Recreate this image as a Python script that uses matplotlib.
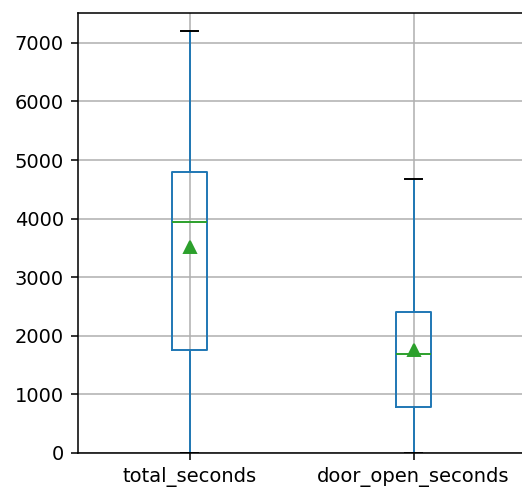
import matplotlib
matplotlib.use("Agg")
import matplotlib.pyplot as plt

# box statistics
columns  = ["total_seconds", "door_open_seconds"]
whislo   = [0, 0]
q1       = [1760, 790]
medians  = [3940, 1690]
q3       = [4800, 2410]
whishi   = [7200, 4680]
means    = [3520, 1760]

stats = [
    dict(label=c, whislo=lo, q1=a, med=m, q3=b, whishi=hi, mean=mu, fliers=[])
    for c, lo, a, m, b, hi, mu in zip(columns, whislo, q1, medians, q3, whishi, means)
]

dpi = 140
fig = plt.figure(figsize=(522 / dpi, 490 / dpi), dpi=dpi)
# the right spine falls just outside the picture in the reference
ax = fig.add_axes([77.5 / 522, 1 - 453 / 490, 448 / 522, 440 / 490])

ax.bxp(
    stats,
    widths=0.16,
    showmeans=True,
    boxprops=dict(color="C0"),
    whiskerprops=dict(color="C0"),
    capprops=dict(color="k"),
    medianprops=dict(color="C2"),
)
ax.grid(True)
ax.set_axisbelow(True)
ax.set_ylim(0, 7510)
ax.set_xlim(0.5, 2.5)

fig.savefig("out.png", dpi=dpi)
